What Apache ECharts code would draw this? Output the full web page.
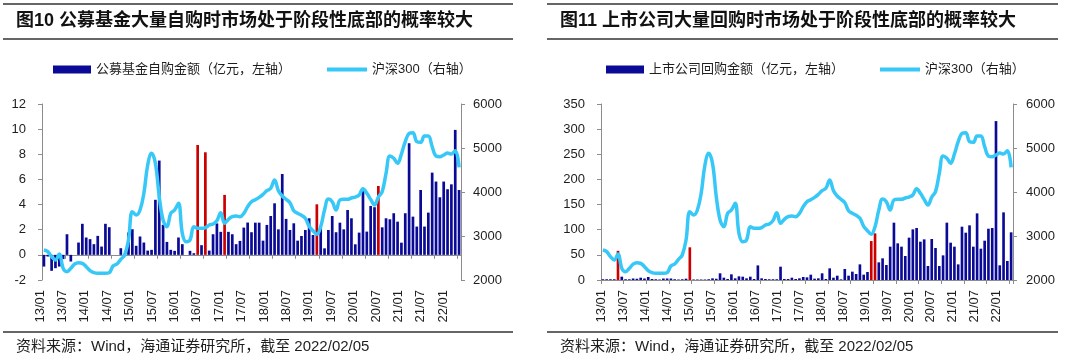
<!DOCTYPE html>
<html><head><meta charset="utf-8">
<script src="https://cdn.jsdelivr.net/npm/echarts/dist/echarts.min.js"></script>
<style>html,body{margin:0;padding:0;background:#fff}#c{width:1080px;height:358px}</style>
</head><body><div id="c"></div>
<script>
// ---------------- data ----------------
const months = [
 '2013/01','2013/02','2013/03','2013/04','2013/05','2013/06','2013/07','2013/08','2013/09','2013/10','2013/11','2013/12',
 '2014/01','2014/02','2014/03','2014/04','2014/05','2014/06','2014/07','2014/08','2014/09','2014/10','2014/11','2014/12',
 '2015/01','2015/02','2015/03','2015/04','2015/05','2015/06','2015/07','2015/08','2015/09','2015/10','2015/11','2015/12',
 '2016/01','2016/02','2016/03','2016/04','2016/05','2016/06','2016/07','2016/08','2016/09','2016/10','2016/11','2016/12',
 '2017/01','2017/02','2017/03','2017/04','2017/05','2017/06','2017/07','2017/08','2017/09','2017/10','2017/11','2017/12',
 '2018/01','2018/02','2018/03','2018/04','2018/05','2018/06','2018/07','2018/08','2018/09','2018/10','2018/11','2018/12',
 '2019/01','2019/02','2019/03','2019/04','2019/05','2019/06','2019/07','2019/08','2019/09','2019/10','2019/11','2019/12',
 '2020/01','2020/02','2020/03','2020/04','2020/05','2020/06','2020/07','2020/08','2020/09','2020/10','2020/11','2020/12',
 '2021/01','2021/02','2021/03','2021/04','2021/05','2021/06','2021/07','2021/08','2021/09','2021/10','2021/11','2021/12',
 '2022/01'
];
const tickLabels = ['13/01','13/07','14/01','14/07','15/01','15/07','16/01','16/07','17/01','17/07',
 '18/01','18/07','19/01','19/07','20/01','20/07','21/01','21/07','22/01'];

// 沪深300 (right axis, both panels)
const hs300 = [
 2682,2644,2530,2454,2591,2265,2189,2265,2363,2394,
 2379,2303,2212,2167,2151,2151,2151,2167,2318,2363,
 2470,2568,2909,3553,3477,3591,3970,4614,4879,4651,
 3894,3364,3212,3515,3591,3742,3061,2871,2909,3212,
 3174,3174,3190,3250,3273,3349,3530,3288,3379,3439,
 3454,3439,3515,3667,3780,3826,3879,3947,4030,4083,
 4273,4030,3909,3833,3758,3576,3515,3470,3402,3220,
 3121,3038,3212,3591,3841,3780,3591,3818,3833,3833,
 3864,3886,3932,4076,3970,3833,3704,3886,4008,4424,
 4818,4765,4652,4864,5144,5333,5349,5144,5129,5273,
 5273,5030,4818,4803,4841,4886,4864,4939,4560
];

// 公募基金自购金额（亿元）
const fundBuy = [
 -0.93,-0.13,-1.27,-1.06,-0.93,-0.34,1.64,-0.53,0,0.98,
 2.47,1.38,1.25,0.85,1.51,0.66,2.47,2.2,0,0,
 0.53,0,1.78,2.04,0.72,1.46,0.98,0.34,0.4,4.38,
 7.5,2.39,1.03,0.4,0.32,1.38,0.85,0,0.32,0.13,
 8.74,0.77,8.16,0.34,1.64,2.5,1.83,4.77,1.83,1.64,
 0.85,1.11,2.17,2.57,1.8,2.56,2.56,1.13,2.38,3.09,
 4.1,2.03,6.43,2.86,1.98,2.51,1.13,1.5,1.98,2.91,
 1.58,4.02,2.2,0.52,1.98,3.09,1.8,2.56,2.03,3.57,
 2.91,0.84,1.77,5.11,1.85,3.89,3.79,5.48,2.19,2.91,
 2.83,3.31,2.64,0.97,3.31,8.88,3.04,2.25,5.16,2.25,
 3.36,6.54,5.83,4.58,5.83,5.22,5.61,9.94,5.16
];
const fundHighlight = ['2016/05','2016/07','2016/12','2018/12','2020/04'];

// 上市公司回购金额（亿元）
const buyback = [
 1.5,1.5,1.5,1.5,58,6.6,1.5,1.5,3,2.5,
 4.6,3,6,2,1.5,1,3,3,3,1.5,
 1,1.5,2.6,65,1,1,1,1,1.5,3.3,
 2.5,13.3,4.6,2,11.3,3.3,7.3,6.6,3.3,6.6,
 2,29,3.3,2,1.5,1.5,1.5,26.5,2,2,
 4.6,2,3.3,6,5.3,10.6,2.7,3.3,13.3,2,
 23.2,4.6,8.6,1.3,21.9,8.6,16.6,11.9,31.1,10.6,
 15.9,77.5,92.8,35.1,43.1,29.8,66.3,114,72.9,66.3,
 47.7,84.2,100.7,103.4,76.2,80.8,27.8,81.5,63.6,27.8,
 49,114,74.2,66.3,31.1,106,94.1,108.7,66.3,132.5,
 62.3,78.2,102,103.4,316,29.2,134.5,37.8,94.8
];
const buybackHighlight = ['2013/05','2014/12','2018/12','2019/01'];

const legendFund = '公募基金自购金额（亿元，左轴）';
const legendBuyback = '上市公司回购金额（亿元，左轴）';
const legendIndex = '沪深300（右轴）';
const title1 = '图10 公募基金大量自购时市场处于阶段性底部的概率较大';
const title2 = '图11 上市公司大量回购时市场处于阶段性底部的概率较大';
const sourceText = '资料来源：Wind，海通证券研究所，截至 2022/02/05';

// ---------------- style ----------------
const NAVY = '#0a0a96', RED = '#cc0000', CYAN = '#38c8f8';
const AX = '#8c8c8c', TXT = '#1e1e1e';
const FONT = '"Liberation Sans", Arial, "Noto Sans CJK SC", sans-serif';

function catAxis(grid) {
  return {type:'category', gridIndex:grid, data:months, boundaryGap:true,
    axisLine:{onZero:true, lineStyle:{color:AX, width:1}},
    axisTick:{show:true, interval:5, length:4, lineStyle:{color:AX}},
    axisLabel:{show:false}, splitLine:{show:false}};
}
function labelAxis(grid) {
  return {type:'category', gridIndex:grid, data:tickLabels, boundaryGap:false,
    axisLine:{show:false}, axisTick:{show:false},
    axisLabel:{interval:0, rotate:90, margin:10, fontSize:13, color:TXT, fontFamily:FONT}};
}
function valAxis(grid, pos, min, max, interval, margin) {
  return {type:'value', gridIndex:grid, position:pos, min:min, max:max, interval:interval,
    axisLine:{show:true, lineStyle:{color:AX}}, axisTick:{show:true, length:4, lineStyle:{color:AX}},
    splitLine:{show:false},
    axisLabel:{margin:margin, fontSize:13, color:TXT, fontFamily:FONT, formatter:v => String(v)}};
}
function hiColor(list) {
  return p => list.indexOf(months[p.dataIndex]) >= 0 ? RED : NAVY;
}

const chart = echarts.init(document.getElementById('c'));
chart.setOption({
  animation:false,
  backgroundColor:'#fff',
  textStyle:{fontFamily:FONT},
  grid:[
    {left:42, top:104, width:419, height:176},
    {left:601, top:104, width:412, height:176},
    {left:40, top:104, width:403.3, height:176},
    {left:601.7, top:104, width:395, height:176}
  ],
  xAxis:[catAxis(0), catAxis(1), labelAxis(2), labelAxis(3)],
  yAxis:[
    valAxis(0,'left',-2,12,2,16),
    valAxis(0,'right',2000,6000,1000,12),
    valAxis(1,'left',0,350,50,16),
    valAxis(1,'right',2000,6000,1000,13),
    {type:'value', gridIndex:2, show:false},
    {type:'value', gridIndex:3, show:false}
  ],
  legend:[
    {data:[{name:legendFund, itemStyle:{color:NAVY}}], left:48, top:58, icon:'rect', itemWidth:38, itemHeight:8,
     textStyle:{fontSize:13, color:TXT, fontFamily:FONT}},
    {data:[{name:legendIndex, itemStyle:{color:CYAN}}], left:322, top:58, icon:'rect', itemWidth:40, itemHeight:4,
     textStyle:{fontSize:13, color:TXT, fontFamily:FONT}},
    {data:[{name:legendBuyback, itemStyle:{color:NAVY}}], left:601, top:58, icon:'rect', itemWidth:38, itemHeight:8,
     textStyle:{fontSize:13, color:TXT, fontFamily:FONT}},
    {data:[{name:legendIndex, itemStyle:{color:CYAN}}], left:875, top:58, icon:'rect', itemWidth:40, itemHeight:4,
     textStyle:{fontSize:13, color:TXT, fontFamily:FONT}}
  ],
  series:[
    {type:'bar', name:legendFund, xAxisIndex:0, yAxisIndex:0, data:fundBuy, barWidth:'70%',
     itemStyle:{color:hiColor(fundHighlight)}, z:2},
    {type:'line', name:legendIndex, xAxisIndex:0, yAxisIndex:1, data:hs300, smooth:0.4, symbol:'none',
     lineStyle:{width:3.5, color:CYAN}, itemStyle:{color:CYAN}, z:3},
    {type:'bar', name:legendBuyback, xAxisIndex:1, yAxisIndex:2, data:buyback, barWidth:'70%',
     itemStyle:{color:hiColor(buybackHighlight)}, z:2},
    {type:'line', name:legendIndex, xAxisIndex:1, yAxisIndex:3, data:hs300, smooth:0.4, symbol:'none',
     lineStyle:{width:3.5, color:CYAN}, itemStyle:{color:CYAN}, z:3}
  ],
  graphic:[
    {type:'line', shape:{x1:3,y1:4,x2:513,y2:4}, style:{stroke:'#333',lineWidth:1.5}},
    {type:'line', shape:{x1:3,y1:39,x2:513,y2:39}, style:{stroke:'#333',lineWidth:1.5}},
    {type:'line', shape:{x1:3,y1:332,x2:513,y2:332}, style:{stroke:'#333',lineWidth:1.5}},
    {type:'line', shape:{x1:547,y1:4,x2:1058,y2:4}, style:{stroke:'#333',lineWidth:1.5}},
    {type:'line', shape:{x1:547,y1:39,x2:1058,y2:39}, style:{stroke:'#333',lineWidth:1.5}},
    {type:'line', shape:{x1:547,y1:332,x2:1058,y2:332}, style:{stroke:'#333',lineWidth:1.5}},
    {type:'text', left:16, top:12, style:{text:title1, font:'bold 18px '+FONT, fill:'#111'}},
    {type:'text', left:560, top:12, style:{text:title2, font:'bold 18px '+FONT, fill:'#111'}},
    {type:'text', left:16, top:339, style:{text:sourceText, font:'15px '+FONT, fill:TXT}},
    {type:'text', left:560, top:339, style:{text:sourceText, font:'15px '+FONT, fill:TXT}}
  ]
});
</script>
</body></html>
